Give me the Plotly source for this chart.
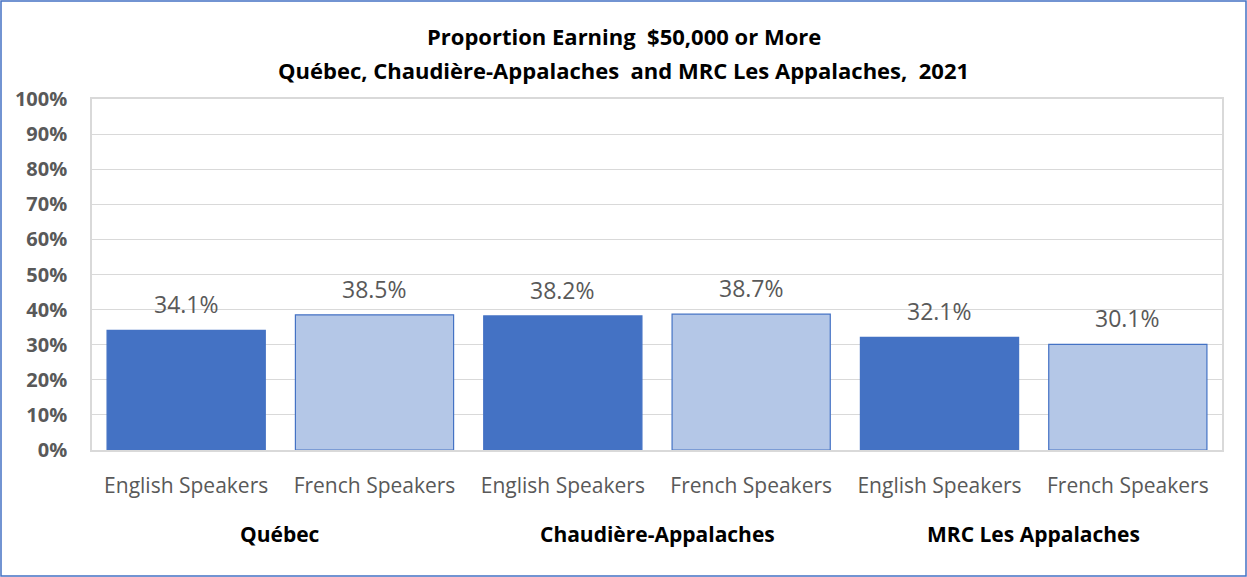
import plotly.graph_objects as go

categories = ["English Speakers", "French Speakers", "English Speakers",
              "French Speakers", "English Speakers", "French Speakers"]
groups = ["Québec", "Chaudière-Appalaches", "MRC Les Appalaches"]
values = [34.1, 38.5, 38.2, 38.7, 32.1, 30.1]
bar_colors = ["#4472C4", "#B4C7E7", "#4472C4", "#B4C7E7", "#4472C4", "#B4C7E7"]
y_ticks = [0, 10, 20, 30, 40, 50, 60, 70, 80, 90, 100]
y_ticktext = [f"{v}%" for v in y_ticks]
title_lines = ["Proportion Earning  $50,000 or More",
               "Québec, Chaudière-Appalaches  and MRC Les Appalaches,  2021"]

W, H = 1247, 577
ML, MR, MT, MB = 92, 25, 99, 127
FONT = "'Open Sans', 'Noto Sans', sans-serif"
pw, ph = W - ML - MR, H - MT - MB


def py(pix):
    """pixel row -> paper y"""
    return (H - MB - pix) / ph


def px(pix):
    """pixel column -> paper x"""
    return (pix - ML) / pw


x = list(range(len(values)))
fig = go.Figure()
fig.add_trace(go.Bar(
    x=x, y=values,
    marker=dict(color=bar_colors, line=dict(color="#4472C4", width=1.2)),
    hoverinfo="skip", showlegend=False,
))

# data labels
for xi, v in zip(x, values):
    fig.add_annotation(x=xi, y=v, xref="x", yref="y", text=f"{v:.1f}%",
                       showarrow=False, yshift=26, yanchor="middle",
                       font=dict(family=FONT, size=23, color="#595959"))

# group labels
for i, g in enumerate(groups):
    fig.add_annotation(x=2 * i + 0.5, y=0, xref="x", yref="y", text=f"<b>{g}</b>",
                       showarrow=False, yshift=-84, yanchor="middle",
                       font=dict(family=FONT, size=21, color="#000000"))

# title lines
for line, pix in zip(title_lines, [36, 70]):
    fig.add_annotation(x=px(W / 2), y=py(pix), xref="paper", yref="paper",
                       text=f"<b>{line}</b>", showarrow=False,
                       xanchor="center", yanchor="middle",
                       font=dict(family=FONT, size=22, color="#000000"))

# outer blue border
x0 = px(1)
x1 = px(W - 1)
y0 = py(H - 1)
y1 = py(1)
fig.add_shape(type="rect", xref="paper", yref="paper", x0=x0, x1=x1, y0=y0, y1=y1,
              line=dict(color="#4472C4", width=1.5), layer="above")

fig.update_layout(
    width=W, height=H,
    margin=dict(l=ML, r=MR, t=MT, b=MB, autoexpand=False),
    paper_bgcolor="white", plot_bgcolor="white",
    bargap=0.16,
    font=dict(family=FONT),
)
fig.update_xaxes(
    tickmode="array", tickvals=x, ticktext=categories,
    range=[-0.5, len(values) - 0.5],
    showgrid=False, showline=True, linecolor="#D9D9D9", linewidth=1.5, mirror=True,
    ticks="", ticklabelstandoff=16,
    tickfont=dict(family=FONT, size=21, color="#595959"),
    zeroline=False,
)
fig.update_yaxes(
    range=[0, 100], tickmode="array", tickvals=y_ticks, ticktext=y_ticktext,
    showgrid=True, gridcolor="#D9D9D9", gridwidth=1.2,
    showline=True, linecolor="#D9D9D9", linewidth=1.5, mirror=True,
    ticks="", ticklabelstandoff=19,
    tickfont=dict(family=FONT, size=20, color="#595959", weight="bold"),
    zeroline=False,
)

fig.write_html("out.html", config={"displayModeBar": False},
               post_script="document.body.style.margin='0';")
